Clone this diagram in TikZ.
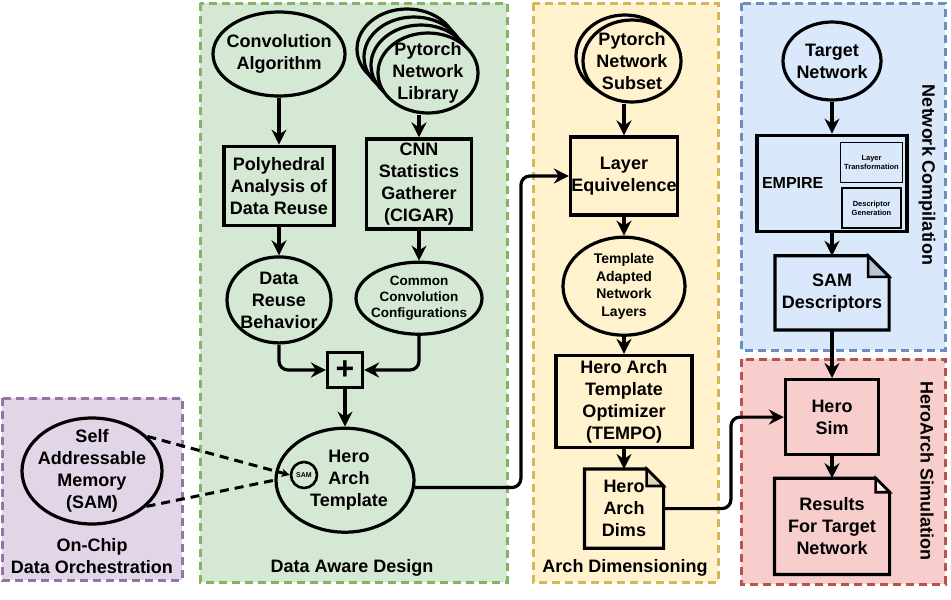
\documentclass[tikz,border=0pt]{standalone}
\usepackage{fontspec}
\setmainfont{Liberation Sans}
\usetikzlibrary{shapes.geometric, positioning, arrows.meta, calc}
\definecolor{purplefill}{HTML}{E1D5E7}
\definecolor{purpleline}{HTML}{9673A6}
\definecolor{greenfill}{HTML}{D5E8D4}
\definecolor{greenline}{HTML}{82B366}
\definecolor{yellowfill}{HTML}{FFF2CC}
\definecolor{yellowline}{HTML}{D6B656}
\definecolor{bluefill}{HTML}{DAE8FC}
\definecolor{blueline}{HTML}{6C8EBF}
\definecolor{redfill}{HTML}{F8CECC}
\definecolor{redline}{HTML}{B85450}
\tikzset{
  big/.style={font=\bfseries\fontsize{18}{22}\selectfont},
  mid/.style={font=\bfseries\fontsize{14}{17.5}\selectfont, align=center},
  lbl/.style={big, align=center},
  region/.style={line width=3pt, dash pattern=on 8pt off 5pt},
  bubble/.style={ellipse, draw=black, line width=3.2pt, inner sep=0pt},
  process/.style={rectangle, draw=black, line width=3.2pt, inner sep=0pt, align=center, big},
  docnode/.style={rectangle, inner sep=0pt, outer sep=1.6pt, align=center, big},
  arrow/.style={line width=3.2pt, -{Stealth[length=15pt,width=15pt,inset=5pt]}},
  link/.style={line width=3pt, dash pattern=on 9pt off 6pt}
}
% document shape with folded corner
\newcommand{\foldeddoc}[3]{%
  \draw[line width=3.2pt] (#1.south west) -- (#1.north west) -- ([xshift=-#2]#1.north east)
    -- ([yshift=-#2]#1.north east) -- (#1.south east) -- cycle;
  \draw[line width=2.6pt, fill=#3] ([xshift=-#2]#1.north east) -- ([xshift=-#2, yshift=-#2]#1.north east)
    -- ([yshift=-#2]#1.north east) -- cycle;
}

\begin{document}
\begin{tikzpicture}[x=1pt, y=-1pt]
  \useasboundingbox (0,0) rectangle (951,600);
  % regions
  \draw[region, draw=purpleline, fill=purplefill] (2,398) rectangle (182,580);
  \draw[region, draw=greenline, fill=greenfill] (200,3) rectangle (507,582);
  \draw[region, draw=yellowline, fill=yellowfill] (533,3) rectangle (718,582);
  \draw[region, draw=blueline, fill=bluefill] (741,3) rectangle (945,350);
  \draw[region, draw=redline, fill=redfill] (741,359) rectangle (945,584);

  \node[lbl] (chiplbl) at (92,556) {On-Chip\\Data Orchestration};
  \node[big] (dadlbl) at (352,568) {Data Aware Design};
  \node[big] (adlbl) at (625,568) {Arch Dimensioning};
  \node[big, rotate=-90] (nclbl) at (927,175) {Network Compilation};
  \node[big, rotate=-90] (hslbl) at (927,471) {HeroArch Simulation};

  % on-chip data orchestration
  \node[bubble, minimum width=140pt, minimum height=106pt] (self) at (92,471) {};
  \node[lbl] (selftxt) at (self) {Self\\Addressable\\Memory\\(SAM)};

  % data aware design
  \node[bubble, minimum width=132pt, minimum height=84pt] (conv) at (279,54) {};
  \node[lbl] (convtxt) at (conv) {Convolution\\Algorithm};
  \foreach \k in {3,2,1}
    \node[bubble, fill=greenfill, minimum width=100pt, minimum height=80pt] (lib\k) at (428-7*\k,73-8*\k) {};
  \node[bubble, fill=greenfill, minimum width=100pt, minimum height=80pt] (lib) at (428,73) {};
  \node[lbl] (libtxt) at (lib) {Pytorch\\Network\\Library};
  \node[process, minimum width=110pt, minimum height=79pt, below=47pt of conv] (poly) {Polyhedral\\Analysis of\\Data Reuse};
  \node[process, minimum width=105pt, minimum height=90pt] (cigar) at (419,184) {CNN\\Statistics\\Gatherer\\(CIGAR)};
  \node[bubble, minimum width=104pt, minimum height=86pt, below=28.5pt of poly] (reuse) {};
  \node[lbl] (reusetxt) at (reuse) {Data\\Reuse\\Behavior};
  \node[bubble, minimum width=126pt, minimum height=72pt, below=30pt of cigar] (common) {};
  \node[font=\bfseries\fontsize{13.5}{16}\selectfont, align=center] (commontxt) at (common) {Common\\Convolution\\Configurations};
  \node[rectangle, draw=black, line width=3.2pt, minimum size=35pt, inner sep=0pt] (plus) at (345,370) {\bfseries\fontsize{32}{32}\selectfont +};
  \node[bubble, minimum width=138pt, minimum height=104pt, below=37.5pt of plus] (hero) {};
  \node[lbl] (herotxt) at ([xshift=4pt]hero.center) {Hero\\Arch\\Template};
  \node[circle, draw=black, line width=2.6pt, minimum size=26pt, inner sep=0pt, font=\bfseries\fontsize{7}{8}\selectfont] (sam) at (304,475) {SAM};

  % arch dimensioning
  \node[bubble, fill=yellowfill, minimum width=98pt, minimum height=82pt] (subset2) at (625,56) {};
  \node[bubble, fill=yellowfill, minimum width=98pt, minimum height=82pt] (subset) at (632,61) {};
  \node[lbl] (subsettxt) at (subset) {Pytorch\\Network\\Subset};
  \node[process, minimum width=107pt, minimum height=78pt] (layer) at (624,176) {Layer\\Equivelence};
  \node[bubble, minimum width=122pt, minimum height=98pt, below=19pt of layer] (tal) {};
  \node[mid] (taltxt) at (tal) {Template\\Adapted\\Network\\Layers};
  \node[process, minimum width=136pt, minimum height=92pt, below=17pt of tal] (tempo) {Hero Arch\\Template\\Optimizer\\(TEMPO)};
  \node[docnode, minimum width=76pt, minimum height=76pt, below=20pt of tempo] (dims) {Hero\\Arch\\Dims};
  \foldeddoc{dims}{17pt}{yellowfill!88!black}

  % network compilation
  \node[bubble, minimum width=98pt, minimum height=78pt] (target) at (832,61) {};
  \node[lbl] (targettxt) at (target) {Target\\Network};
  \node[process, minimum width=150pt, minimum height=96pt, text width=140pt, inner xsep=5pt, align=left,
        font=\bfseries\fontsize{16}{19}\selectfont, below=32pt of target] (empire) {EMPIRE};
  \node[rectangle, draw=black, line width=1pt, minimum width=59pt, minimum height=40pt, align=center,
        font=\bfseries\fontsize{7.5}{9}\selectfont] (ltbox) at (871.5,162) {Layer\\Transformation};
  \node[rectangle, draw=black, line width=2.2pt, minimum width=59pt, minimum height=40pt, align=center,
        font=\bfseries\fontsize{7.5}{9}\selectfont] (dgbox) at (871.5,208) {Descriptor\\Generation};
  \node[docnode, minimum width=111pt, minimum height=71pt, below=23pt of empire] (samd) {SAM\\Descriptors};
  \foldeddoc{samd}{21pt}{bluefill!85!black}

  % heroarch simulation
  \node[process, minimum width=93pt, minimum height=75pt, below=48pt of samd] (herosim) {Hero\\Sim};
  \node[docnode, minimum width=112pt, minimum height=93pt, below=22pt of herosim] (results) {Results\\For Target\\Network};
  \foldeddoc{results}{14pt}{white!60!redfill}

  % connectors
  \draw[arrow] (conv) -- (poly);
  \draw[arrow] (cigar |- lib.south) -- (cigar);
  \draw[arrow] (poly) -- (reuse);
  \draw[arrow] (cigar) -- (common);
  \draw[arrow, rounded corners=9pt] (reuse.south) |- (plus.west);
  \draw[arrow, rounded corners=9pt] (common.south) |- (plus.east);
  \draw[arrow] (plus) -- (hero);
  \draw[arrow, rounded corners=9pt] (hero.-6) -| ([xshift=-48pt]layer.west) -- (layer.west);
  \draw[arrow] (layer |- subset.south) -- (layer);
  \draw[arrow] (layer) -- (tal);
  \draw[arrow] (tal) -- (tempo);
  \draw[arrow] (tempo) -- (dims);
  \draw[arrow, rounded corners=9pt] (dims.east) -| ([xshift=-53pt]herosim.west) -- (herosim.west);
  \draw[arrow] (target) -- (empire);
  \draw[arrow] (empire) -- (samd);
  \draw[arrow] (samd) -- (herosim);
  \draw[arrow] (herosim) -- (results);
  \draw[link, -{Stealth[length=8pt,width=8pt,inset=2pt]}] (self.32) -- (sam.west);
  \draw[link] (self.-33) -- (hero.west);
\end{tikzpicture}
\end{document}
